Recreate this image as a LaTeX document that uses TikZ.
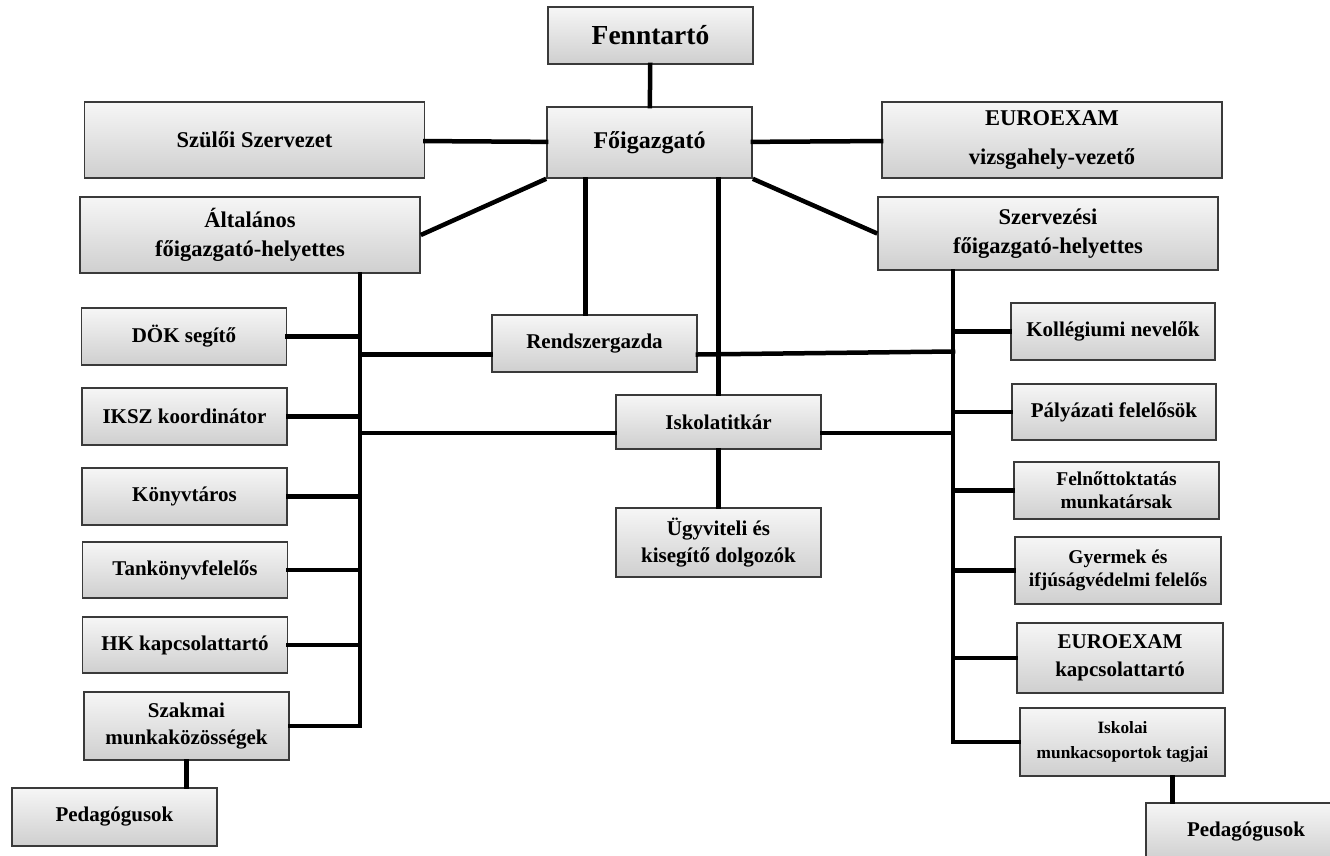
\documentclass[tikz,border=0pt]{standalone}
\usepackage{fontspec}
\setmainfont{Liberation Serif}
\usetikzlibrary{calc}
\definecolor{orgink}{HTML}{3A3A3A}
\definecolor{orgtop}{HTML}{F6F6F6}
\definecolor{orgbot}{HTML}{CFCFCF}
\begin{document}
\begin{tikzpicture}[x=1pt,y=-1pt,line cap=rect,line join=miter,
  box/.style={draw=orgink,line width=1.6pt,top color=orgtop,bottom color=orgbot,
    align=center,inner sep=2pt,minimum width=205pt,minimum height=57pt,
    font=\bfseries\fontsize{21}{27}\selectfont},
  wide/.style={box,minimum width=340pt,minimum height=76pt,
    font=\bfseries\fontsize{22.5}{29}\selectfont},
  link/.style={line width=4.5pt,black}]
\useasboundingbox (0,0) rectangle (1330,856);
\node[box,minimum height=57pt,font=\bfseries\fontsize{27.5}{30}\selectfont] (fenn) at (650.5,35.5) {Fenntartó};
\node[box,minimum height=71pt,font=\bfseries\fontsize{24}{26}\selectfont] (fo) at (649.5,142.5) {Főigazgató};
\node[wide] (szulo) at (254.5,140) {Szülői Szervezet};
\node[wide] (euvizs) at (1052,140) {EUROEXAM\\[10pt]vizsgahely-vezető};
\node[wide] (alt) at (250,235) {Általános\\főigazgató-helyettes};
\node[wide,minimum height=73pt] (szerv) at (1048,233.5) {Szervezési\\főigazgató-helyettes};
\node[box] (dok) at (184,336.5) {DÖK segítő};
\node[box] (iksz) at (184.5,416.5) {IKSZ koordinátor};
\node[box] (konyv) at (184.5,496.5) {Könyvtáros};
\node[box,minimum height=56pt] (tank) at (185,570) {Tankönyvfelelős};
\node[box,minimum height=56pt] (hk) at (185,645) {HK kapcsolattartó};
\node[box,minimum height=68pt] (szakm) at (186.5,726) {Szakmai\\munkaközösségek};
\node[box,minimum height=58pt] (pedl) at (114.5,817) {Pedagógusok};
\node[box] (rendsz) at (594.5,343.5) {Rendszergazda};
\node[box,minimum height=54pt] (iskt) at (718.5,422) {Iskolatitkár};
\node[box,minimum height=69pt] (ugyv) at (718.5,542.5) {Ügyviteli és\\kisegítő dolgozók};
\node[box,minimum width=204pt] (koll) at (1113,331.5) {Kollégiumi nevelők};
\node[box,minimum width=204pt,minimum height=56pt] (paly) at (1114,412) {Pályázati felelősök};
\node[box,font=\bfseries\fontsize{19.5}{23}\selectfont] (feln) at (1116.5,490.5) {Felnőttoktatás\\munkatársak};
\node[box,minimum width=206pt,minimum height=67pt,font=\bfseries\fontsize{19.5}{23}\selectfont] (gyerm) at (1118,570.5) {Gyermek és\\ifjúságvédelmi felelős};
\node[box,minimum width=206pt,minimum height=70pt,font=\bfseries\fontsize{21}{28}\selectfont] (eukap) at (1120,658) {EUROEXAM\\kapcsolattartó};
\node[box,minimum height=68pt,font=\bfseries\fontsize{17.3}{25}\selectfont] (iskol) at (1122.5,742) {Iskolai\\munkacsoportok tagjai};
\node[box,minimum width=200pt,minimum height=58pt] (pedr) at (1246,832) {Pedagógusok};
\coordinate (ltop) at (alt.south -| 360,0);
\coordinate (lbot) at (360,726);
\coordinate (rtop) at (szerv.south -| 953,0);
\coordinate (rbot) at (953,742);
\draw[link] (fenn) -- (fo);
\draw[link] (szulo) -- (fo);
\draw[link] (fo) -- (euvizs);
\draw[link,line cap=butt] (fo.south west) -- (alt.east);
\draw[link,line cap=butt] (fo.south east) -- (szerv.west);
\draw[link] ([xshift=-9pt]rendsz.north) -- ([xshift=-9pt]rendsz.north |- fo.south);
\draw[link] (iskt.north) -- (iskt.north |- fo.south);
\draw[link] (iskt) -- (ugyv);
\draw[link] (szakm) -- (szakm.south |- pedl.north);
\draw[link] ([xshift=50pt]iskol.south) -- ([xshift=50pt]iskol.south |- pedr.north);
\draw[link] (ltop) -- (lbot) -- (szakm.east |- lbot);
\foreach \n in {dok,iksz,konyv,tank,hk}
  \draw[link] (\n.east) -- (\n.east -| ltop);
\draw[link] (rtop) -- (rbot) -- (iskol.west |- rbot);
\foreach \n in {koll,paly,feln,gyerm,eukap}
  \draw[link] (\n.west) -- (\n.west -| rtop);
\draw[link] ([yshift=-11pt]rendsz.west) -- ([yshift=-11pt]rendsz.west -| ltop);
\draw[link] ([yshift=-11pt]rendsz.east) -- ([yshift=-8pt]rendsz.east -| rtop);
\draw[link] ([yshift=-11pt]iskt.west) -- ([yshift=-11pt]iskt.west -| ltop);
\draw[link] ([yshift=-11pt]iskt.east) -- ([yshift=-11pt]iskt.east -| rtop);
\end{tikzpicture}
\end{document}
